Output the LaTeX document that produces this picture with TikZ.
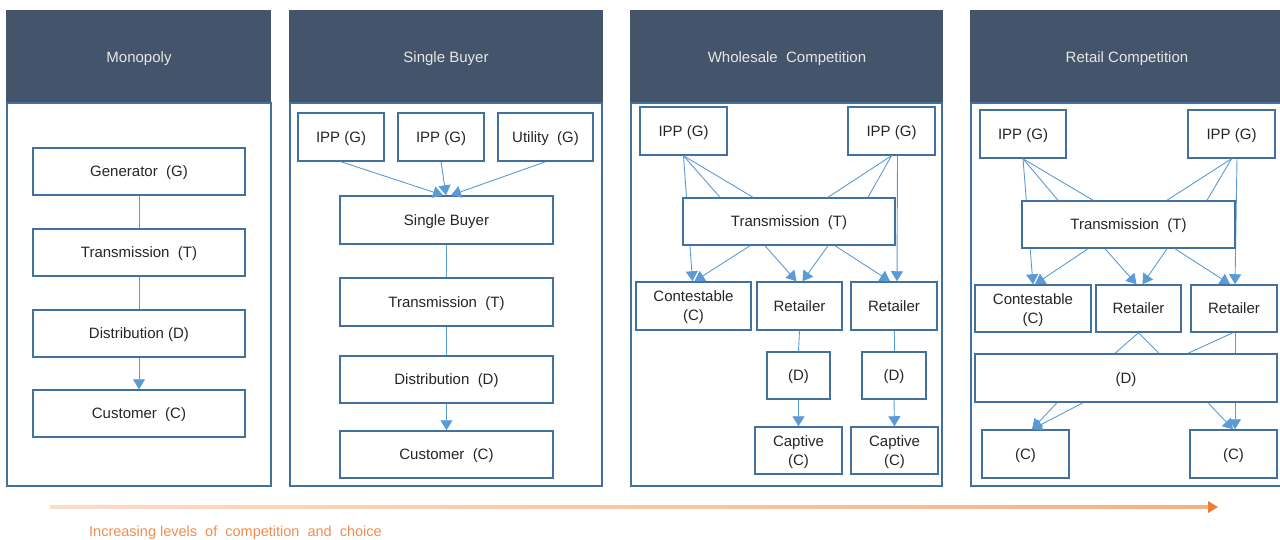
\documentclass[tikz,border=0pt]{standalone}
\usepackage{fontspec}
\setmainfont{Liberation Sans}
\usetikzlibrary{arrows.meta}

\definecolor{headc}{HTML}{44546A}
\definecolor{headtxt}{HTML}{E7E6E6}
\definecolor{boxc}{HTML}{41719C}
\definecolor{linkc}{HTML}{5B9BD5}
\definecolor{txtc}{HTML}{262626}
\definecolor{orlight}{HTML}{FBDCC8}
\definecolor{ormid}{HTML}{F4B183}
\definecolor{ordark}{HTML}{ED7D31}
\definecolor{ortxt}{HTML}{F08C4C}

% box with given centre and size (in pt)
\newcommand\bx[6]{\node[box,minimum width=#4pt,minimum height=#5pt] (#1) at (#2,#3) {#6};}

\tikzset{
  box/.style={draw=boxc, line width=1.5pt, fill=white, inner sep=0pt, text=txtc,
    align=center, text depth=0pt, font=\fontsize{15}{19}\selectfont},
  head/.style={fill=headc},
  panel/.style={draw=boxc, line width=1.5pt},
  headlabel/.style={text=headtxt, font=\fontsize{15}{17}\selectfont},
  link/.style={draw=linkc, line width=0.9pt},
  flow/.style={link, -{Triangle[width=12pt,length=10pt]}},
}

\begin{document}
\begin{tikzpicture}[x=1pt,y=-1pt]
\useasboundingbox (0,0) rectangle (1280,539);

% ---------- panels ----------
\fill[head] (6,10) rectangle (271,103);
\draw[panel] (7,103) rectangle (271,486);
\node[headlabel] (h1) at (139,58.5) {Monopoly};

\fill[head] (289,10) rectangle (603,103);
\draw[panel] (290,103) rectangle (602,486);
\node[headlabel] (h2) at (446,58.5) {Single Buyer};

\fill[head] (630,10) rectangle (943,103);
\draw[panel] (631,103) rectangle (942,486);
\node[headlabel] (h3) at (787,58.5) {Wholesale\ \ Competition};

\fill[head] (970,10) rectangle (1290,103);
\draw[panel] (971,103) rectangle (1290,486);
\node[headlabel] (h4) at (1127,58.5) {Retail Competition};

% ---------- Monopoly ----------
\bx{g1}{139}{171.5}{212}{47}{Generator\ \ (G)}
\bx{t1}{139}{252.5}{212}{47}{Transmission\ \ (T)}
\bx{d1}{139}{333.5}{212}{47}{Distribution (D)}
\bx{c1}{139}{413.5}{212}{47}{Customer\ \ (C)}
\draw[link] (g1.south) -- (t1.north);
\draw[link] (t1.south) -- (d1.north);
\draw[flow] (d1.south) -- (c1.north);

% ---------- Single Buyer ----------
\bx{ip21}{341}{137}{86}{48}{IPP (G)}
\bx{ip22}{441}{137}{86}{48}{IPP (G)}
\bx{ut2}{545.5}{137}{95}{48}{Utility\ \ (G)}
\bx{sb2}{446.5}{220}{213}{48}{Single Buyer}
\bx{t2}{446.5}{302}{213}{48}{Transmission\ \ (T)}
\bx{d2}{446.5}{379.5}{213}{47}{Distribution\ \ (D)}
\bx{c2}{446.5}{454.5}{213}{47}{Customer\ \ (C)}
\draw[flow] (ip21.south) -- ([xshift=-3.5pt]sb2.north);
\draw[flow] (ip22.south) -- ([xshift=-0.5pt]sb2.north);
\draw[flow] (ut2.south) -- ([xshift=4.5pt]sb2.north);
\draw[link] (sb2.south) -- (t2.north);
\draw[link] (t2.south) -- (d2.north);
\draw[flow] (d2.south) -- (c2.north);

% ---------- Wholesale Competition ----------
\bx{ip31}{683.5}{131}{87}{48}{IPP (G)}
\bx{ip32}{891.5}{131}{87}{48}{IPP (G)}
\bx{ct3}{693.5}{306}{115}{48}{Contestable\\(C)}
\bx{r31}{799.5}{306}{85}{48}{Retailer}
\bx{r32}{894}{306}{86}{48}{Retailer}
% generator links run behind the transmission box
\draw[flow] (ip31.south) -- ([xshift=-1pt]ct3.north);
\draw[flow] ([xshift=6pt]ip32.south) -- ([xshift=3pt]r32.north);
\bx{t3}{789}{221.5}{212}{47}{Transmission\ \ (T)}
\draw[link] (ip31.south) -- ([xshift=-69pt]t3.north);
\draw[link] (ip31.south) -- ([xshift=-36pt]t3.north);
\draw[link] (ip32.south) -- ([xshift=39pt]t3.north);
\draw[link] (ip32.south) -- ([xshift=79pt]t3.north);
\draw[flow] ([xshift=-39pt]t3.south) -- ([xshift=1pt]ct3.north);
\draw[flow] ([xshift=-24pt]t3.south) -- ([xshift=-3pt]r31.north);
\draw[flow] ([xshift=39pt]t3.south) -- ([xshift=3pt]r31.north);
\draw[flow] ([xshift=46pt]t3.south) -- ([xshift=-4pt]r32.north);
\bx{d31}{798.5}{375.5}{63}{47}{(D)}
\bx{d32}{894}{375.5}{64}{47}{(D)}
\bx{cp31}{798.5}{450.5}{87}{47}{Captive\\(C)}
\bx{cp32}{894.5}{450.5}{87}{47}{Captive\\(C)}
\draw[link] (r31.south) -- (d31.north);
\draw[link] (r32.south) -- (d32.north);
\draw[flow] (d31.south) -- (cp31.north);
\draw[flow] (d32.south) -- (cp32.north);

% ---------- Retail Competition ----------
\bx{ip41}{1023}{134}{86}{48}{IPP (G)}
\bx{ip42}{1231.5}{134}{87}{48}{IPP (G)}
\bx{ct4}{1033}{308.5}{116}{47}{Contestable\\(C)}
\bx{r41}{1138.5}{308.5}{85}{47}{Retailer}
\bx{r42}{1234}{308.5}{86}{47}{Retailer}
\draw[flow] (ip41.south) -- ([xshift=0pt]ct4.north);
\draw[flow] ([xshift=5.5pt]ip42.south) -- ([xshift=1pt]r42.north);
\bx{t4}{1128.5}{224.5}{213}{47}{Transmission\ \ (T)}
\draw[link] (ip41.south) -- ([xshift=-70.5pt]t4.north);
\draw[link] (ip41.south) -- ([xshift=-35.5pt]t4.north);
\draw[link] (ip42.south) -- ([xshift=38.5pt]t4.north);
\draw[link] (ip42.south) -- ([xshift=78.5pt]t4.north);
\draw[flow] ([xshift=-40.5pt]t4.south) -- ([xshift=2pt]ct4.north);
\draw[flow] ([xshift=-23.5pt]t4.south) -- ([xshift=-2pt]r41.north);
\draw[flow] ([xshift=38.5pt]t4.south) -- ([xshift=4pt]r41.north);
\draw[flow] ([xshift=46.5pt]t4.south) -- ([xshift=-4pt]r42.north);
\bx{dd4}{1126}{378}{302}{48}{(D)}
\draw[link] (r41.south) -- ([xshift=-11pt]dd4.north);
\draw[link] (r41.south) -- ([xshift=33pt]dd4.north);
\draw[link] ([xshift=-1pt]r42.south) -- ([xshift=62pt]dd4.north);
\draw[link] ([xshift=1pt]r42.south) -- ([xshift=109pt]dd4.north);
\bx{cl4}{1025.5}{454}{87}{48}{(C)}
\bx{cr4}{1233.5}{454}{87}{48}{(C)}
\draw[flow] ([xshift=-69pt]dd4.south) -- ([xshift=6.5pt]cl4.north);
\draw[flow] ([xshift=-43pt]dd4.south) -- ([xshift=6.5pt]cl4.north);
\draw[flow] ([xshift=82pt]dd4.south) -- ([xshift=-0.5pt]cr4.north);
\draw[flow] ([xshift=109pt]dd4.south) -- ([xshift=1.5pt]cr4.north);

% ---------- competition scale ----------
\coordinate (scaleA) at (50,507);
\coordinate (scaleB) at (1218,507);
\shade[left color=orlight, right color=ormid]
  ([yshift=-1.2pt]scaleA) rectangle ([xshift=-9pt,yshift=1.2pt]scaleB);
\fill[ordark] (scaleB) -- ++(-10,-6) -- ++(0,12) -- cycle;
\node[anchor=west, text=ortxt, font=\fontsize{14.5}{16}\selectfont, inner sep=0pt]
  (scalelabel) at (89,533) {Increasing levels\ \ of\ \ competition\ \ and\ \ choice};

\end{tikzpicture}
\end{document}
